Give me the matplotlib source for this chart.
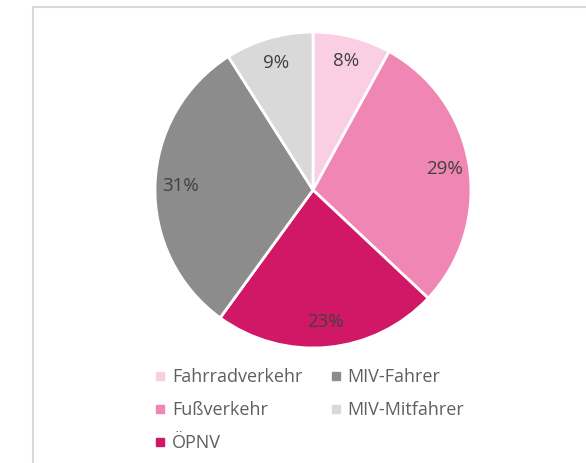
import matplotlib.pyplot as plt
from matplotlib.lines import Line2D
from matplotlib.patches import Rectangle

plt.rcParams['font.family'] = ['Open Sans', 'DejaVu Sans']

# Modal split
labels = ['Fahrradverkehr', 'Fußverkehr', 'ÖPNV', 'MIV-Fahrer', 'MIV-Mitfahrer']
shares = [8, 29, 23, 31, 9]
colors = ['#fbcfe3', '#f086b4', '#d01866', '#8c8c8c', '#d9d9d9']

W, H = 586, 463
fig = plt.figure(figsize=(W / 100, H / 100), dpi=100)

# light frame around the chart area (cut off at right/bottom)
fig.add_artist(Rectangle((33 / W, -0.1), 1.2, (H - 7) / H + 0.1, transform=fig.transFigure,
                         fill=False, edgecolor='#d9d9d9', linewidth=1.5))

cx, cy, r = 313, 190, 158
ax = fig.add_axes([(cx - r) / W, (H - cy - r) / H, 2 * r / W, 2 * r / H])
wedges, texts, autotexts = ax.pie(shares, colors=colors, startangle=90, counterclock=False,
                                  autopct='%d%%', pctdistance=0.84,
                                  wedgeprops=dict(edgecolor='white', linewidth=2))
for t in autotexts:
    t.set_fontsize(13.5)
    t.set_color('#404040')
ax.set_xlim(-1, 1)
ax.set_ylim(-1, 1)
ax.set_aspect('equal')
ax.axis('off')

handles = [Line2D([], [], marker='s', linestyle='none', markersize=5.5,
                  markerfacecolor=c, markeredgecolor=c) for c in colors]
fig.legend(handles, labels, loc='upper left', bbox_to_anchor=(155 / W, (H - 368) / H),
           ncol=2, frameon=False, fontsize=13, labelcolor='#5f5f5f',
           handlelength=0.6, handletextpad=0.33, columnspacing=1.55, labelspacing=0.84,
           borderpad=0, borderaxespad=0)

fig.savefig('out.png', dpi=100)
